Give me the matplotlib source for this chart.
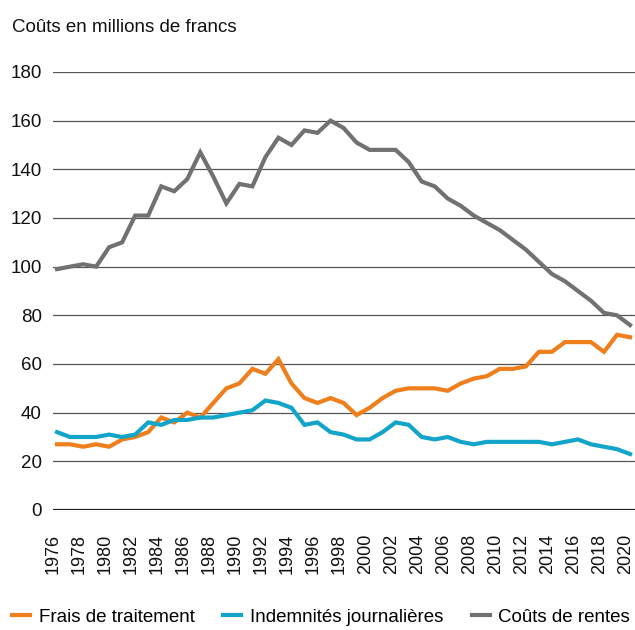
import matplotlib.pyplot as plt
import matplotlib.transforms as mtransforms

plt.rcParams['font.family'] = ['Liberation Sans', 'DejaVu Sans']

# DATA
years = list(range(1976, 2021))
frais_traitement = [27, 27, 26, 27, 26, 29, 30, 32, 38, 36, 40, 38, 44, 50, 52,
                    58, 56, 62, 52, 46, 44, 46, 44, 39, 42, 46, 49, 50, 50, 50,
                    49, 52, 54, 55, 58, 58, 59, 65, 65, 69, 69, 69, 65, 72, 71]
indemnites = [32, 30, 30, 30, 31, 30, 31, 36, 35, 37, 37, 38, 38, 39, 40,
              41, 45, 44, 42, 35, 36, 32, 31, 29, 29, 32, 36, 35, 30, 29,
              30, 28, 27, 28, 28, 28, 28, 28, 27, 28, 29, 27, 26, 25, 23]
couts_rentes = [99, 100, 101, 100, 108, 110, 121, 121, 133, 131, 136, 147, 137, 126, 134,
                133, 145, 153, 150, 156, 155, 160, 157, 151, 148, 148, 148, 143, 135, 133,
                128, 125, 121, 118, 115, 111, 107, 102, 97, 94, 90, 86, 81, 80, 76]
y_ticks = list(range(0, 181, 20))
x_ticks = list(range(1976, 2021, 2))

fs = 13.5

# figure
fig = plt.figure(figsize=(6.35, 6.30), dpi=100)
ax = fig.add_axes([53 / 635, 120 / 630, 582 / 635, 438 / 630])

# gridlines
for v in y_ticks:
    if v == 0:
        ax.axhline(v, color='#222222', lw=1.6, zorder=1)
    else:
        ax.axhline(v, color='#555555', lw=0.9, zorder=1)

# series
ax.plot(years, frais_traitement, color='#EE7F1C', lw=3, label='Frais de traitement',
        solid_joinstyle='miter', zorder=3)
ax.plot(years, indemnites, color='#12A5C9', lw=3, label='Indemnités journalières',
        solid_joinstyle='miter', zorder=3)
ax.plot(years, couts_rentes, color='#717171', lw=3, label='Coûts de rentes',
        solid_joinstyle='miter', zorder=3)

ax.set_xlim(1975.69, 2020.38)
ax.set_ylim(0, 180)
ax.set_yticks(y_ticks)
ax.set_xticks(x_ticks)
ax.set_xticklabels([str(x) for x in x_ticks], rotation=90, fontsize=13)
ax.tick_params(axis='y', length=0, pad=8, labelsize=fs, colors='#111111')
ax.tick_params(axis='x', length=0, pad=17, colors='#111111')
offset = mtransforms.ScaledTranslation(-4 / 100, 0, fig.dpi_scale_trans)
for lbl in ax.get_xticklabels():
    lbl.set_transform(lbl.get_transform() + offset)
for s in ax.spines.values():
    s.set_visible(False)

# title
fig.text(12 / 635, (630 - 32) / 630, 'Coûts en millions de francs', fontsize=fs,
         ha='left', va='baseline', color='#111111')

# legend
handles, labels = ax.get_legend_handles_labels()
fig.legend(handles, labels, loc='center left', bbox_to_anchor=(12 / 635, 13 / 630),
           ncol=3, frameon=False, fontsize=fs, handlelength=0.96, handletextpad=0.48,
           columnspacing=1.5, borderpad=0, borderaxespad=0)

plt.savefig('out.png', dpi=100)
